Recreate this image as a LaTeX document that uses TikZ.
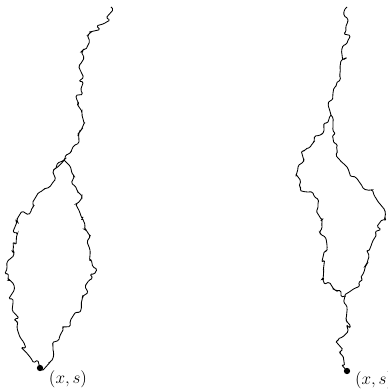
\documentclass[tikz,border=0pt]{standalone}
\usepackage{amsmath,amssymb}
\usetikzlibrary{decorations.pathmorphing}

\begin{document}
\begin{tikzpicture}[x=0.7pt,y=-0.7pt,
    walk/.style={line width=0.6pt,rounded corners=1pt,decorate,
      decoration={random steps,segment length=2.8pt,amplitude=3pt}},
    lab/.style={font=\large}]
  \pgfmathsetseed{4711}
  \useasboundingbox (0,0) rectangle (388,392);

  % left picture
  \coordinate (ls) at (40,368);
  \coordinate (lj) at (64,160);
  \coordinate (lt) at (111,7);

  \draw[walk] (ls) -- (30,357) -- (20,337) -- (15,320) -- (13,300) -- (7,267)
    -- (13,250) -- (17,220) -- (33,207) -- (43,190) -- (55,180) -- (53,172) -- (lj);
  \draw[walk] (ls) -- (50,362) -- (53,347) -- (63,330) -- (75,313) -- (82,300)
    -- (95,273) -- (90,250) -- (80,213) -- (77,190) -- (72,173) -- (lj);
  \draw[walk] (56,168) -- (lj) -- (70,153) -- (73,147) -- (79,133) -- (82,113)
    -- (77,100) -- (83,83) -- (79,67) -- (83,50) -- (90,33) -- (105,23) -- (lt);

  \fill (ls) circle (2.2pt);
  \node[lab] (lbl1) at (68,379) {$(x,s)$};

  % right picture
  \coordinate (rs) at (347,371);
  \coordinate (rj) at (345,296);
  \coordinate (rk) at (331,115);
  \coordinate (rt) at (347,7);

  \draw[walk] (rs) -- (340,353) -- (338,340) -- (350,327) -- (347,307) -- (rj);
  \draw[walk] (rj) -- (335,290) -- (323,280) -- (327,250) -- (322,227) -- (318,207)
    -- (313,193) -- (300,187) -- (298,167) -- (305,150) -- (313,143) -- (323,133)
    -- (328,122) -- (rk);
  \draw[walk] (rj) -- (352,290) -- (362,280) -- (367,263) -- (372,243) -- (385,217)
    -- (377,200) -- (360,183) -- (347,167) -- (337,150) -- (333,125) -- (rk);
  \draw[walk] (rk) -- (333,93) -- (340,73) -- (347,43) -- (348,20) -- (rt);

  \fill (rs) circle (2.2pt);
  \node[lab,anchor=west] (lbl2) at (350,380) {$(x,s)$};
\end{tikzpicture}
\end{document}
